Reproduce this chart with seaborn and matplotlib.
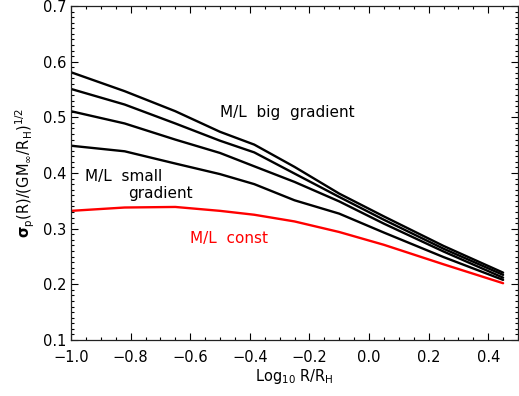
import numpy as np
import pandas as pd
import matplotlib
matplotlib.use("Agg")
import matplotlib.pyplot as plt
from matplotlib.ticker import MultipleLocator
import seaborn as sns

# Data
x = [-1.0, -0.82, -0.65, -0.5, -0.385, -0.25, -0.1, 0.05, 0.25, 0.45]
grad1 = [0.581, 0.547, 0.511, 0.474, 0.451, 0.411, 0.363, 0.322, 0.269, 0.221]
grad2 = [0.551, 0.523, 0.489, 0.458, 0.437, 0.399, 0.357, 0.316, 0.264, 0.217]
grad3 = [0.511, 0.489, 0.460, 0.436, 0.412, 0.384, 0.349, 0.309, 0.259, 0.212]
grad4 = [0.449, 0.439, 0.417, 0.398, 0.380, 0.351, 0.327, 0.293, 0.249, 0.208]
const = [0.332, 0.338, 0.339, 0.332, 0.325, 0.313, 0.294, 0.271, 0.236, 0.202]
xtick_labels = ["\u22121.0", "\u22120.8", "\u22120.6", "\u22120.4", "\u22120.2", "0.0", "0.2", "0.4"]

series = {"g1": grad1, "g2": grad2, "g3": grad3, "g4": grad4, "const": const}
colors = {"g1": "black", "g2": "black", "g3": "black", "g4": "black", "const": "red"}

df = pd.concat([pd.DataFrame({"x": x, "y": v, "s": k}) for k, v in series.items()])

sns.set_style("ticks")
plt.rcParams["font.family"] = ["DejaVu Sans"]
plt.rcParams["mathtext.fontset"] = "dejavusans"
plt.rcParams["text.color"] = "black"
plt.rcParams["axes.labelcolor"] = "black"
plt.rcParams["xtick.color"] = "black"
plt.rcParams["ytick.color"] = "black"

fig = plt.figure(figsize=(5.19, 3.96), dpi=100)
ax = fig.add_axes([71/519, 56/396, 447/519, 334/396])

sns.lineplot(data=df, x="x", y="y", hue="s", palette=colors, ax=ax,
             legend=False, linewidth=1.7, sort=False)

ax.set_xlim(-1.0, 0.5)
ax.set_ylim(0.1, 0.7)
ax.xaxis.set_minor_locator(MultipleLocator(0.05))
ax.yaxis.set_major_locator(MultipleLocator(0.1))
ax.yaxis.set_minor_locator(MultipleLocator(0.01))
ax.set_xticks([-1.0, -0.8, -0.6, -0.4, -0.2, 0.0, 0.2, 0.4])
ax.set_xticklabels(xtick_labels)
ax.tick_params(which="both", direction="in", top=True, right=True,
               labelsize=10.5, width=0.8)
ax.tick_params(which="major", length=5)
ax.tick_params(which="minor", length=2.5)
ax.tick_params(axis="x", pad=7)
for sp in ax.spines.values():
    sp.set_linewidth(0.9)
    sp.set_color("#222222")

ax.set_xlabel(r"Log$_{10}$ R/R$_{\mathrm{H}}$", fontsize=10.5, labelpad=2)
ax.set_ylabel(r"$\mathbf{\sigma}_{\mathrm{p}}\mathrm{(R)/(GM_{\infty}/R_{H})^{1/2}}$",
              fontsize=10.5, labelpad=4)

ax.text(-0.5, 0.508, "M/L  big  gradient", fontsize=11, va="center", ha="left")
ax.text(-0.953, 0.393, "M/L  small", fontsize=11, va="center", ha="left")
ax.text(-0.808, 0.363, "gradient", fontsize=11, va="center", ha="left")
ax.text(-0.602, 0.283, "M/L  const", fontsize=11, va="center", ha="left", color="red")

fig.savefig("out.png", dpi=100)
